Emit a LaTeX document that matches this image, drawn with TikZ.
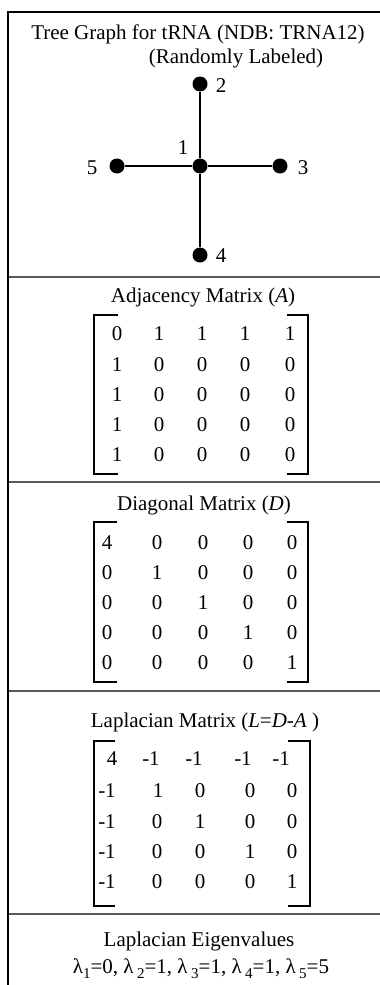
\documentclass[tikz,border=0pt]{standalone}
\usepackage{fontspec}
\setmainfont{Liberation Serif}
\newcommand\matrow[3]{\foreach \xx/\vv [count=\jj] in {#3} {\node[ent] (#1\jj) at (\xx,#2) {\vv};}}
\newcommand\lsub[1]{\raisebox{-5pt}{\fontsize{15}{15}\selectfont #1}}
\begin{document}
\begin{tikzpicture}[x=1pt,y=-1pt,
  txt/.style={anchor=base,inner sep=0pt,font=\fontsize{21}{25}\selectfont},
  ent/.style={txt},
  frameline/.style={draw=black,line width=1.4pt},
  divline/.style={draw=black!65,line width=1.4pt},
  brk/.style={draw=black,line width=1.4pt},
  dot/.style={circle,fill=black,inner sep=0pt,minimum size=15pt},
  edge/.style={draw=black,line width=1.4pt}]
\useasboundingbox (0,0) rectangle (380,985);
% frame
\coordinate (tl) at (8,12);
\coordinate (tr) at (380,12);
\coordinate (bl) at (8,985);
\foreach \yy [count=\k] in {277,482,691,914}{
  \coordinate (dl\k) at (8,\yy);
  \coordinate (dr\k) at (380,\yy);
  \draw[divline] (dl\k) -- (dr\k);
}
\draw[frameline] (bl) -- (tl) -- (tr);
% tree title
\node[txt] (t1) at (198,39) {Tree Graph for tRNA (NDB: TRNA12)};
\node[txt] (t2) at (236,63) {(Randomly Labeled)};
% graph
\node[dot] (v1) at (200,166) {};
\node[dot] (v2) at (200,84) {};
\node[dot] (v3) at (280,166) {};
\node[dot] (v4) at (200,255) {};
\node[dot] (v5) at (117,166) {};
\draw[edge] (v1) -- (v2);
\draw[edge] (v1) -- (v3);
\draw[edge] (v1) -- (v4);
\draw[edge] (v1) -- (v5);
\node[txt] (l1) at (183,154) {1};
\node[txt] (l2) at (221,92) {2};
\node[txt] (l3) at (303,174) {3};
\node[txt] (l4) at (221,262) {4};
\node[txt] (l5) at (92,174) {5};
% adjacency
\node[txt] (ta) at (203,302) {Adjacency Matrix (\textit{A})};
\draw[brk] (118,315) -- (94,315) -- (94,474) -- (118,474);
\draw[brk] (287,315) -- (308,315) -- (308,474) -- (287,474);
\matrow{Aa}{340}{117/0,159/1,202/1,245/1,290/1}
\matrow{Ab}{371}{117/1,159/0,202/0,245/0,290/0}
\matrow{Ac}{401}{117/1,159/0,202/0,245/0,290/0}
\matrow{Ad}{431}{117/1,159/0,202/0,245/0,290/0}
\matrow{Ae}{461}{117/1,159/0,202/0,245/0,290/0}
% diagonal
\node[txt] (td) at (204,510) {Diagonal Matrix (\textit{D})};
\draw[brk] (117,522) -- (94,522) -- (94,682) -- (117,682);
\draw[brk] (287,522) -- (308,522) -- (308,682) -- (287,682);
\matrow{Da}{549}{107/4,157/0,203/0,248/0,292/0}
\matrow{Db}{579}{107/0,157/1,203/0,248/0,292/0}
\matrow{Dc}{609}{107/0,157/0,203/1,248/0,292/0}
\matrow{Dd}{639}{107/0,157/0,203/0,248/1,292/0}
\matrow{De}{669}{107/0,157/0,203/0,248/0,292/1}
% laplacian
\node[txt] (tl2) at (205,727) {Laplacian Matrix (\textit{L}=\textit{D}-\textit{A} )};
\draw[brk] (115,741) -- (94,741) -- (94,906) -- (115,906);
\draw[brk] (288,741) -- (310,741) -- (310,906) -- (288,906);
\matrow{La}{765}{112/4,151/-1,194/-1,243/-1,281/-1}
\matrow{Lb}{797}{107/-1,158/1,200/0,250/0,292/0}
\matrow{Lc}{828}{107/-1,157/0,200/1,250/0,292/0}
\matrow{Ld}{858}{107/-1,157/0,200/0,250/1,292/0}
\matrow{Le}{888}{107/-1,157/0,200/0,250/0,292/1}
% eigenvalues
\node[txt] (te) at (199,946) {Laplacian Eigenvalues};
\node[txt] (tv) at (201,973) {λ\lsub{1}=0, λ\,\lsub{2}=1, λ\,\lsub{3}=1, λ\,\lsub{4}=1, λ\,\lsub{5}=5};
\end{tikzpicture}
\end{document}
